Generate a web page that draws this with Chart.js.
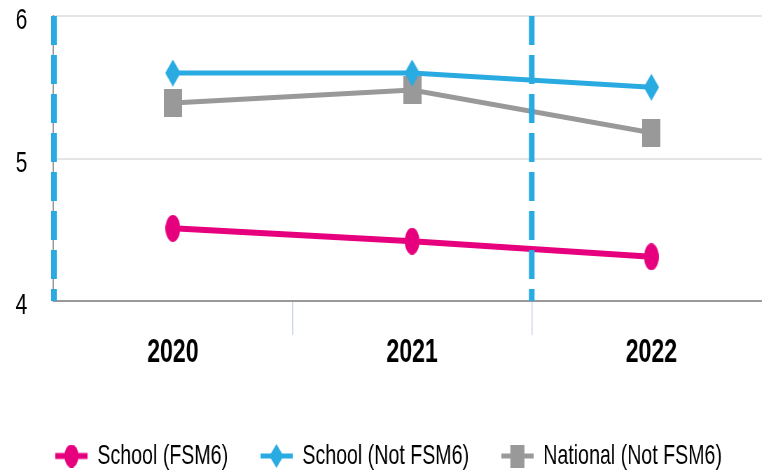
<!DOCTYPE html>
<html>
<head>
<meta charset="utf-8">
<script src="https://cdn.jsdelivr.net/npm/chart.js@4.4.1/dist/chart.umd.min.js"></script>
<style>
  html, body { margin: 0; padding: 0; background: #fff; overflow: hidden; }
  #wrap { width: 762px; height: 473px; overflow: hidden; }
</style>
</head>
<body>
<div id="wrap">
  <!-- drawn wide, shown narrow: the source picture is horizontally squeezed -->
  <canvas id="chart" width="1111" height="473" style="width:777.7px;height:473px"></canvas>
</div>
<script>
var YEARS = ['2020', '2021', '2022'];
var SCHOOL_FSM6 = [4.51, 4.42, 4.31];
var SCHOOL_NOT_FSM6 = [5.60, 5.60, 5.50];
var NATIONAL_NOT_FSM6 = [5.39, 5.48, 5.18];
var Y_MIN = 4;
var Y_MAX = 6;

var PINK = '#e6007e';
var BLUE = '#29abe2';
var GREY = '#999999';
var FONT = "'Liberation Sans', Arial, sans-serif";

function makeMarker(shape, color, w, h, lineLen, lineW) {
  var cw = lineLen || w;
  var c = document.createElement('canvas');
  c.width = cw;
  c.height = h;
  var g = c.getContext('2d');
  g.fillStyle = color;
  var cx = cw / 2, cy = h / 2;
  if (lineLen) {
    g.strokeStyle = color;
    g.lineWidth = lineW;
    g.beginPath();
    g.moveTo(0, cy);
    g.lineTo(cw, cy);
    g.stroke();
  }
  g.beginPath();
  if (shape === 'ellipse') {
    g.ellipse(cx, cy, w / 2, h / 2, 0, 0, Math.PI * 2);
  } else if (shape === 'diamond') {
    g.moveTo(cx, cy - h / 2);
    g.lineTo(cx + w / 2, cy);
    g.lineTo(cx, cy + h / 2);
    g.lineTo(cx - w / 2, cy);
    g.closePath();
  } else {
    g.rect(cx - w / 2, cy - h / 2, w, h);
  }
  g.fill();
  return c;
}

var pinkPoint = makeMarker('ellipse', PINK, 21, 27);
var bluePoint = makeMarker('diamond', BLUE, 22, 27);
var greyPoint = makeMarker('rect', GREY, 26, 28);

var legendIcons = [
  makeMarker('ellipse', PINK, 20, 23, 46, 6),
  makeMarker('diamond', BLUE, 20, 24, 46, 5),
  makeMarker('rect', GREY, 20, 23, 46, 5),
];

var dashedLines = {
  id: 'dashedLines',
  afterDatasetsDraw: function (chart) {
    var x = chart.scales.x;
    var area = chart.chartArea;
    var ctx = chart.ctx;
    var xs = [area.left + 1, (x.getPixelForValue(1) + x.getPixelForValue(2)) / 2];
    ctx.save();
    ctx.strokeStyle = BLUE;
    ctx.lineWidth = 8;
    ctx.setLineDash([29, 10]);
    xs.forEach(function (px) {
      ctx.beginPath();
      ctx.moveTo(px, area.top);
      ctx.lineTo(px, area.bottom);
      ctx.stroke();
    });
    ctx.restore();
  },
};

var ctx = document.getElementById('chart').getContext('2d');
new Chart(ctx, {
  type: 'line',
  data: {
    labels: YEARS,
    datasets: [
      {
        label: 'School (FSM6)',
        data: SCHOOL_FSM6,
        borderColor: PINK,
        backgroundColor: PINK,
        borderWidth: 6,
        pointStyle: pinkPoint,
      },
      {
        label: 'School (Not FSM6)',
        data: SCHOOL_NOT_FSM6,
        borderColor: BLUE,
        backgroundColor: BLUE,
        borderWidth: 5,
        pointStyle: bluePoint,
      },
      {
        label: 'National (Not FSM6)',
        data: NATIONAL_NOT_FSM6,
        borderColor: GREY,
        backgroundColor: GREY,
        borderWidth: 5,
        pointStyle: greyPoint,
      },
    ],
  },
  options: {
    responsive: false,
    animation: false,
    layout: { padding: { left: 0, right: 1, top: 16, bottom: -7 } },
    scales: {
      x: {
        offset: true,
        afterFit: function (s) {
          s.height = 95;
          s.paddingLeft = 0;
          s.paddingRight = 0;
        },
        grid: {
          offset: true,
          drawOnChartArea: false,
          tickLength: 34,
          lineWidth: 1.5,
          color: function (c) { return c.index === 0 ? 'rgba(0,0,0,0)' : '#c8d2e4'; },
        },
        border: { color: '#999', width: 2 },
        ticks: {
          color: '#000',
          padding: -2,
          font: { family: FONT, size: 33, weight: 'bold' },
        },
      },
      y: {
        min: Y_MIN,
        max: Y_MAX,
        afterFit: function (s) {
          s.width = 76;
          s.paddingTop = 0;
          s.paddingBottom = 0;
        },
        ticks: {
          stepSize: 1,
          color: '#000',
          padding: 37,
          labelOffset: 5,
          font: { family: FONT, size: 30 },
        },
        grid: { color: '#e4e4e4', lineWidth: 2, drawTicks: false },
        border: { color: '#999', width: 2 },
      },
    },
    plugins: {
      tooltip: { enabled: false },
      legend: {
        position: 'bottom',
        labels: {
          usePointStyle: true,
          pointStyleWidth: 46,
          padding: 46,
          color: '#000',
          font: { family: FONT, size: 28 },
          generateLabels: function (chart) {
            return chart.data.datasets.map(function (ds, i) {
              return {
                text: ds.label,
                pointStyle: legendIcons[i],
                fillStyle: ds.backgroundColor,
                strokeStyle: ds.borderColor,
                lineWidth: 0,
                fontColor: '#000',
                datasetIndex: i,
                hidden: false,
              };
            });
          },
        },
      },
    },
  },
  plugins: [dashedLines],
});
</script>
</body>
</html>
